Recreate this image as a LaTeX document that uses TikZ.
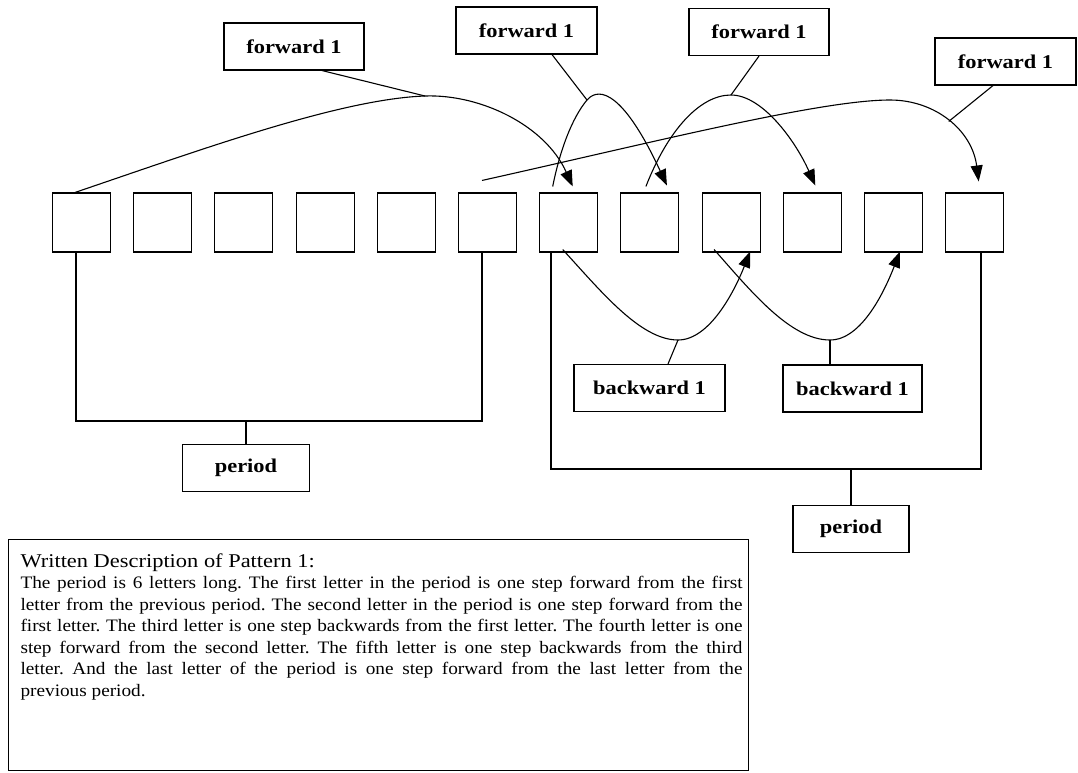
\documentclass[tikz,border=0pt]{standalone}
\usepackage{fontspec}
\setmainfont{Liberation Serif}[FakeStretch=1.15]
\newfontfamily\descfont{Liberation Serif}[FakeStretch=1.1]
\usetikzlibrary{arrows.meta}

\begin{document}
\begin{tikzpicture}[x=1pt, y=-1pt, line width=1.1pt,
    cell/.style={draw, minimum width=58, minimum height=59, inner sep=0},
    labelbox/.style={draw, minimum height=47, inner sep=0, font=\bfseries\fontsize{19.5}{23}\selectfont},
    arr/.style={-{Triangle[length=16pt, width=12pt]}}]
    \useasboundingbox (0,0) rectangle (1078,772);

    % Letter cells
    \foreach \i in {1,...,12}
        \node[cell] (s\i) at ({81.5+81.2*(\i-1)}, 222.5) {};

    % Step labels
    \node[labelbox, minimum width=140] (f1) at (294,46.5) {forward 1};
    \node[labelbox, minimum width=141] (f2) at (526.5,30.5) {forward 1};
    \node[labelbox, minimum width=140] (f3) at (759,32) {forward 1};
    \node[labelbox, minimum width=141] (f4) at (1005.5,61.5) {forward 1};
    \node[labelbox, minimum width=151] (b1) at (649.5,388) {backward 1};
    \node[labelbox, minimum width=139] (b2) at (852.5,388.5) {backward 1};

    % Forward steps over the top
    \draw[arr] ([xshift=-6.5]s1.north) .. controls (200,150) and (340,99) .. (425,96) coordinate (j1)
        .. controls (480,94) and (545,125) .. ([xshift=4,yshift=6]s7.north);
    \draw[arr] ([xshift=-16,yshift=6]s7.north) .. controls (560,150) and (572,118) .. (587,100) coordinate (j2)
        .. controls (600,85) and (625,95) .. ([xshift=17,yshift=7]s8.north);
    \draw[arr] ([xshift=-4,yshift=6]s8.north) .. controls (668,130) and (700,95) .. (731,95) coordinate (j3)
        .. controls (762,95) and (795,140) .. ([xshift=3,yshift=7]s10.north);
    \draw[arr] ([xshift=-5.5,yshift=12]s6.north) .. controls (650,143) and (820,100) .. (890,100)
        .. controls (935,100) and (972,130) .. ([xshift=4,yshift=11]s12.north) coordinate[pos=0.5] (j4);

    % Backward steps underneath
    \draw[arr] ([xshift=-6,yshift=3]s7.south) .. controls (600,290) and (640,340) .. (678,340) coordinate (k1)
        .. controls (710,340) and (735,290) .. ([xshift=19,yshift=1]s9.south);
    \draw[arr] ([xshift=-17,yshift=3]s9.south) .. controls (750,290) and (790,340) .. (830,340) coordinate (k2)
        .. controls (862,340) and (885,290) .. ([xshift=6.5,yshift=1]s11.south);

    % Label leaders
    \draw ([xshift=28]f1.south) -- (j1);
    \draw ([xshift=25.5]f2.south) -- (j2);
    \draw (f3.south) -- (j3);
    \draw ([xshift=-12.5]f4.south) -- (j4);
    \draw ([xshift=18.5]b1.north) -- (k1);
    \draw ([xshift=-22.5]b2.north) -- (k2);

    % Periods
    \node[labelbox, minimum width=127] (p1) at (246,468) {period};
    \node[labelbox, minimum width=116] (p2) at (851,529) {period};
    \coordinate (lb) at (246,421);
    \coordinate (rb) at (851,469);
    \draw ([xshift=-5.5]s1.south) |- (lb) -| ([xshift=-5.5]s6.south);
    \draw (p1.north) -- (lb);
    \draw ([xshift=-17.7]s7.south) |- (rb) -| ([xshift=6.3]s12.south);
    \draw (p2.north) -- (rb);

    % Written description
    \node[draw, line width=1pt, minimum width=740, minimum height=231, inner sep=0, anchor=north west] (desc) at (8,539) {};
    \node[anchor=north west, text width=722, align=justify, inner sep=0] (desctext) at ([xshift=12,yshift=-14]desc.north west) {%
        \hyphenpenalty=10000 \frenchspacing
        {\fontsize{19.5}{22}\selectfont Written Description of Pattern 1:\par}
        \descfont\fontsize{17.5}{21.5}\selectfont
        The period is 6 letters long. The first letter in the period is one step forward from the first\linebreak
        letter from the previous period. The second letter in the period is one step forward from the\linebreak
        first letter. The third letter is one step backwards from the first letter. The fourth letter is one\linebreak
        step forward from the second letter. The fifth letter is one step backwards from the third\linebreak
        letter. And the last letter of the period is one step forward from the last letter from the\linebreak
        previous period.\par};
\end{tikzpicture}
\end{document}
